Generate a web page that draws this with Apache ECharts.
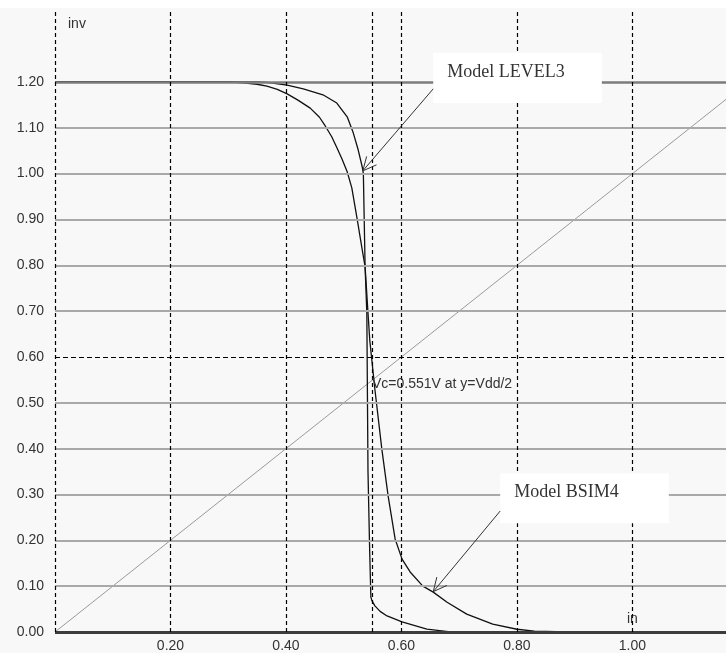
<!DOCTYPE html>
<html><head><meta charset="utf-8">
<script src="https://cdn.jsdelivr.net/npm/echarts@6/dist/echarts.min.js"></script>
<style>html,body{margin:0;padding:0;background:#fff}#c{width:726px;height:653px}</style>
</head><body><div id="c"></div>
<script>
// ---- data ----
const xTickValues = [0, 0.2, 0.4, 0.6, 0.8, 1.0];
const xTickLabels = ['', '0.20', '0.40', '0.60', '0.80', '1.00'];
const yTickValues = [0, 0.1, 0.2, 0.3, 0.4, 0.5, 0.6, 0.7, 0.8, 0.9, 1.0, 1.1, 1.2];
const yTickLabels = ['0.00','0.10','0.20','0.30','0.40','0.50','0.60','0.70','0.80','0.90','1.00','1.10','1.20'];
const xMax = 1.162;
const yMax = 1.357;
const vcValue = 0.551;
const vddHalf = 0.6;

const level3X = [0, 0.35, 0.367, 0.402, 0.43, 0.464, 0.488, 0.506, 0.516, 0.525, 0.532, 0.534, 0.537, 0.540, 0.542, 0.545, 0.547, 0.549, 0.554, 0.563, 0.575, 0.601, 0.644, 0.681, 0.72, 1.2];
const level3Y = [1.2, 1.2, 1.199, 1.193, 1.185, 1.172, 1.154, 1.124, 1.091, 1.052, 1.015, 1.0, 0.797, 0.697, 0.351, 0.174, 0.076, 0.068, 0.057, 0.045, 0.035, 0.022, 0.0065, 0.001, 0, 0];

const bsim4X = [0, 0.30, 0.326, 0.35, 0.367, 0.385, 0.402, 0.42, 0.442, 0.458, 0.468, 0.479, 0.488, 0.497, 0.506, 0.514, 0.523, 0.532, 0.537, 0.542, 0.545, 0.554, 0.566, 0.577, 0.589, 0.601, 0.615, 0.637, 0.655, 0.679, 0.713, 0.758, 0.800, 0.830, 0.888, 1.2];
const bsim4Y = [1.2, 1.2, 1.198, 1.195, 1.191, 1.184, 1.174, 1.161, 1.143, 1.123, 1.104, 1.081, 1.057, 1.032, 1.004, 0.969, 0.903, 0.834, 0.797, 0.697, 0.638, 0.529, 0.399, 0.296, 0.203, 0.159, 0.131, 0.100, 0.087, 0.065, 0.039, 0.017, 0.006, 0.002, 0, 0];

const diagX = [0, 1.2];
const diagY = [0, 1.2];

const yAxisName = 'inv';
const xAxisName = 'in';
const vcText = 'Vc=0.551V at y=Vdd/2';
const noteLevel3 = 'Model LEVEL3';
const noteBsim4 = 'Model BSIM4';
// annotation anchors (data coords)
const level3Box = [[0.655, 1.263], [0.947, 1.154]];
const level3Arrow = [[0.655, 1.185], [0.533, 1.006]];
const bsim4Box = [[0.771, 0.346], [1.063, 0.237]];
const bsim4Arrow = [[0.771, 0.264], [0.655, 0.088]];

const zip = (a, b) => a.map((v, i) => [v, b[i]]);
const lbl = (vals, labels) => v => {
  const i = vals.findIndex(t => Math.abs(t - v) < 1e-6);
  return i < 0 ? '' : labels[i];
};

const chart = echarts.init(document.getElementById('c'), null, {renderer: 'canvas'});

const gridLines = [];
yTickValues.forEach(v => {
  if (Math.abs(v - vddHalf) < 1e-6) return;
  let ls = {color: '#a9a9a9', width: 2, type: 'solid'};
  if (v === 1.2) ls = {color: '#7c7c7c', width: 2.5, type: 'solid'};
  if (v === 0) ls = {color: '#3c3c3c', width: 3, type: 'solid'};
  gridLines.push({yAxis: v, lineStyle: ls});
});
xTickValues.forEach(v => gridLines.push({xAxis: v, lineStyle: {color: '#000', width: 1.2, type: [4, 3]}}));
gridLines.push({xAxis: vcValue, lineStyle: {color: '#000', width: 1.2, type: [4, 3]}});
gridLines.push({yAxis: vddHalf, lineStyle: {color: '#000', width: 1.2, type: [5, 3]}});

const font = '"Liberation Sans", Arial, sans-serif';

chart.setOption({
  animation: false,
  backgroundColor: '#f8f8f8',
  grid: {left: 55, right: 0, top: 10, bottom: 20},
  xAxis: {
    type: 'value', min: 0, max: xMax, interval: 0.2,
    axisLine: {show: false}, axisTick: {show: false}, splitLine: {show: false},
    axisLabel: {formatter: lbl(xTickValues, xTickLabels), color: '#333', fontSize: 14, fontFamily: font, margin: 7, showMaxLabel: false}
  },
  yAxis: {
    type: 'value', min: 0, max: yMax, interval: 0.1,
    axisLine: {show: false}, axisTick: {show: false}, splitLine: {show: false},
    axisLabel: {formatter: lbl(yTickValues, yTickLabels), color: '#333', fontSize: 14, fontFamily: font, margin: 11, showMaxLabel: false}
  },
  series: [
    {type: 'line', data: [], z: 1, silent: true,
     markLine: {silent: true, symbol: 'none', label: {show: false}, animation: false, data: gridLines}},
    {type: 'line', data: zip(diagX, diagY), z: 2, symbol: 'none', silent: true,
     lineStyle: {color: '#9a9a9a', width: 1}},
    {type: 'line', name: 'LEVEL3', data: zip(level3X, level3Y), z: 3, symbol: 'none', silent: true,
     lineStyle: {color: '#111', width: 1.3}},
    {type: 'line', name: 'BSIM4', data: zip(bsim4X, bsim4Y), z: 3, symbol: 'none', silent: true,
     lineStyle: {color: '#111', width: 1.3}}
  ]
});

const px = p => chart.convertToPixel({gridIndex: 0}, p);
function arrow(s, t) {
  const a = px(s), b = px(t);
  const dx = a[0] - b[0], dy = a[1] - b[1];
  const L = Math.hypot(dx, dy), ux = dx / L, uy = dy / L;
  const hl = 15, ang = Math.PI / 7;
  const c = Math.cos(ang), sn = Math.sin(ang);
  const w1 = [b[0] + hl * (ux * c - uy * sn), b[1] + hl * (ux * sn + uy * c)];
  const w2 = [b[0] + hl * (ux * c + uy * sn), b[1] + hl * (-ux * sn + uy * c)];
  return [
    {type: 'polyline', z: 20, shape: {points: [a, b]}, style: {stroke: '#333', lineWidth: 1, fill: null}},
    {type: 'polyline', z: 20, shape: {points: [w1, b, w2]}, style: {stroke: '#333', lineWidth: 1, fill: null}}
  ];
}
function box(corners, text) {
  const p1 = px(corners[0]), p2 = px(corners[1]);
  return [
    {type: 'rect', z: 18, shape: {x: p1[0], y: p1[1], width: p2[0] - p1[0], height: p2[1] - p1[1]}, style: {fill: '#fff'}},
    {type: 'text', z: 19, x: p1[0] + 14, y: p1[1] + 19, style: {text: text, fill: '#333', font: '18px "Liberation Serif", "Times New Roman", serif', verticalAlign: 'middle', textAlign: 'left'}}
  ];
}
const pInv = px([0.0225, 1.326]);
const pIn = px([1.0, 0.028]);
const pVc = px([0.549, 0.540]);
chart.setOption({
  graphic: [
    {type: 'rect', z: 30, shape: {x: 0, y: 0, width: 726, height: 8}, style: {fill: '#fff'}},
    {type: 'text', z: 20, x: pInv[0], y: pInv[1], style: {text: yAxisName, fill: '#333', font: '14px ' + font, verticalAlign: 'middle'}},
    {type: 'text', z: 20, x: pIn[0], y: pIn[1], style: {text: xAxisName, fill: '#333', font: '14px ' + font, verticalAlign: 'middle', textAlign: 'center'}},
    {type: 'text', z: 20, x: pVc[0], y: pVc[1], style: {text: vcText, fill: '#333', font: '14px ' + font, verticalAlign: 'middle'}},
    ...box(level3Box, noteLevel3),
    ...arrow(level3Arrow[0], level3Arrow[1]),
    ...box(bsim4Box, noteBsim4),
    ...arrow(bsim4Arrow[0], bsim4Arrow[1])
  ]
});
</script></body></html>
